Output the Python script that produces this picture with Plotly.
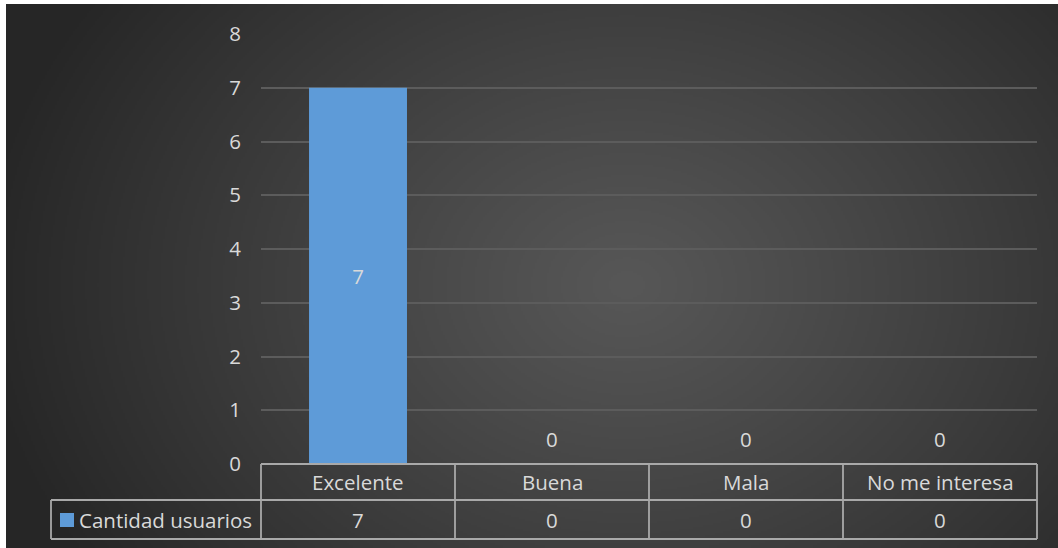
import base64, struct, zlib
import numpy as np
import plotly.graph_objects as go

# ---- data ----
categories = ["Excelente", "Buena", "Mala", "No me interesa"]
values = [7, 0, 0, 0]
series_name = "Cantidad usuarios"
y_ticks = [0, 1, 2, 3, 4, 5, 6, 7, 8]

# ---- style ----
W, H = 1058, 548
L, R, T, B = 261, 21, 34, 84
PW, PH = W - L - R, H - T - B
FONT = "'Open Sans', sans-serif"
FS = 20.5
TXT = "#d9d9d9"
BAR = "#5e9bd8"
GRID = "#5c5c5c"
BORDER = "#a9a9a9"


def png_data_uri(arr):
    h, w, _ = arr.shape
    raw = b"".join(b"\x00" + arr[i].tobytes() for i in range(h))

    def chunk(tag, data):
        c = tag + data
        return struct.pack(">I", len(data)) + c + struct.pack(">I", zlib.crc32(c) & 0xffffffff)

    png = b"\x89PNG\r\n\x1a\n" + chunk(b"IHDR", struct.pack(">IIBBBBB", w, h, 8, 2, 0, 0, 0)) + \
        chunk(b"IDAT", zlib.compress(raw, 9)) + chunk(b"IEND", b"")
    return "data:image/png;base64," + base64.b64encode(png).decode()


# radial background gradient (style only)
bw, bh = 1052, 544
gw, gh = bw // 2, bh // 2
yy, xx = np.mgrid[0:gh, 0:gw].astype(float)
cx, cy = 620 / 2, 280 / 2
d = np.sqrt(((xx - cx) / (gw * 0.62)) ** 2 + ((yy - cy) / (gh * 0.95)) ** 2)
d = np.clip(d, 0, 1)
col = 0x57 + (0x26 - 0x57) * d ** 1.1
img = np.repeat(np.clip(col, 0, 255).astype(np.uint8)[:, :, None], 3, axis=2)
bg_uri = png_data_uri(img)


def px_to_px(px):  # pixel x -> paper x
    return (px - L) / PW


def py_to_py(py):  # pixel y -> paper y
    return (H - B - py) / PH


fig = go.Figure()
fig.add_trace(go.Bar(
    x=categories, y=values, name=series_name,
    marker=dict(color=BAR, line=dict(width=0)),
    width=0.505,
    text=[str(v) if v > 0 else "" for v in values],
    textposition="inside",
    insidetextanchor="middle",
    textangle=0,
    insidetextfont=dict(family=FONT, size=FS, color=TXT),
    cliponaxis=False,
    showlegend=False,
))

shapes = []
annotations = []
n = len(categories)
row1_top, row1_bot, row2_bot = 464, 500, 539
left_cell = 51
lw = 1.8
# horizontal lines
shapes.append(dict(type="line", xref="paper", yref="paper", x0=0, x1=1,
                   y0=py_to_py(row1_top), y1=py_to_py(row1_top), line=dict(color=BORDER, width=lw)))
for yv in (row1_bot, row2_bot):
    shapes.append(dict(type="line", xref="paper", yref="paper", x0=px_to_px(left_cell), x1=1,
                       y0=py_to_py(yv), y1=py_to_py(yv), line=dict(color=BORDER, width=lw)))
# vertical lines at category boundaries
for i in range(n + 1):
    xp = i / n
    shapes.append(dict(type="line", xref="paper", yref="paper", x0=xp, x1=xp,
                       y0=py_to_py(row1_top), y1=py_to_py(row2_bot), line=dict(color=BORDER, width=lw)))
shapes.append(dict(type="line", xref="paper", yref="paper", x0=px_to_px(left_cell), x1=px_to_px(left_cell),
                   y0=py_to_py(row1_bot), y1=py_to_py(row2_bot), line=dict(color=BORDER, width=lw)))
# legend key square
shapes.append(dict(type="rect", xref="paper", yref="paper", x0=px_to_px(60), x1=px_to_px(74),
                   y0=py_to_py(527), y1=py_to_py(513), fillcolor=BAR, line=dict(width=0)))

for i, (c, v) in enumerate(zip(categories, values)):
    xp = (i + 0.5) / n
    annotations.append(dict(xref="paper", yref="paper", x=xp, y=py_to_py((row1_top + row1_bot) / 2),
                            text=c, showarrow=False, xanchor="center", yanchor="middle",
                            font=dict(family=FONT, size=FS, color=TXT)))
    annotations.append(dict(xref="paper", yref="paper", x=xp, y=py_to_py((row1_bot + row2_bot) / 2),
                            text=str(v), showarrow=False, xanchor="center", yanchor="middle",
                            font=dict(family=FONT, size=FS, color=TXT)))
    if v == 0:
        annotations.append(dict(xref="x", yref="y", x=c, y=v, yshift=25,
                                text=str(v), showarrow=False, xanchor="center", yanchor="middle",
                                font=dict(family=FONT, size=FS, color=TXT)))
annotations.append(dict(xref="paper", yref="paper", x=px_to_px(77), y=py_to_py((row1_bot + row2_bot) / 2),
                        text=series_name, showarrow=False, xanchor="left", yanchor="middle",
                        font=dict(family=FONT, size=FS, color=TXT)))

fig.update_layout(
    width=W, height=H,
    margin=dict(l=L, r=R, t=T, b=B, pad=0),
    paper_bgcolor="white",
    plot_bgcolor="rgba(0,0,0,0)",
    bargap=0.5,
    images=[dict(source=bg_uri, xref="paper", yref="paper",
                 x=px_to_px(6), y=py_to_py(4), sizex=bw / PW, sizey=bh / PH,
                 xanchor="left", yanchor="top", sizing="stretch", layer="below")],
    xaxis=dict(showticklabels=False, showgrid=False, zeroline=False, showline=False,
               ticks="", range=[-0.5, n - 0.5]),
    yaxis=dict(range=[0, 8], tickvals=y_ticks, showgrid=True, gridcolor=GRID, gridwidth=1.6,
               zeroline=False, showline=False, ticks="",
               tickfont=dict(family=FONT, size=FS, color=TXT), ticklabelstandoff=19),
    shapes=shapes,
    annotations=annotations,
    showlegend=False,
)

fig.write_html("out.html")
